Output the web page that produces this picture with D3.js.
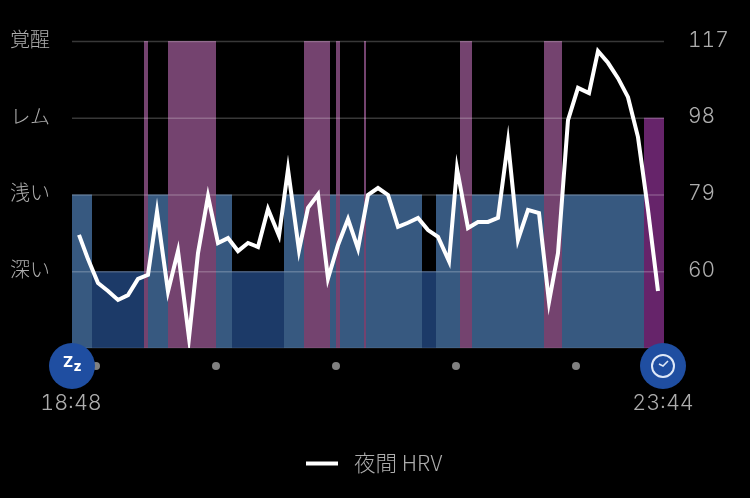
<!DOCTYPE html>
<html>
<head>
<meta charset="utf-8">
<script src="https://cdn.jsdelivr.net/npm/d3@7"></script>
<style>
  html, body { margin: 0; padding: 0; background: #000; }
  svg { display: block; will-change: transform; }
  text { font-family: Inter, "Noto Sans CJK JP", sans-serif; fill: #adadad; font-feature-settings: "tnum"; }
  .jp { font-family: "Noto Sans CJK JP", sans-serif; font-weight: 300; }
</style>
</head>
<body>
<div class="chart"></div>
<script>
// Sleep stage labels, bottom to top
var stageLabels = ["深い", "浅い", "レム", "覚醒"];

// Stage blocks: minutes after 18:48
var stageStart = [0, 10, 36, 38, 48, 72, 80, 106, 116, 129, 132, 134, 146, 147, 175, 182, 194, 200, 236, 245, 286];
var stageEnd = [10, 36, 38, 48, 72, 80, 106, 116, 129, 132, 134, 146, 147, 175, 182, 194, 200, 236, 245, 286, 296];
var stageLevel = ["浅い", "深い", "覚醒", "浅い", "覚醒", "浅い", "深い", "浅い", "覚醒", "浅い", "覚醒", "浅い", "覚醒", "浅い", "深い", "浅い", "覚醒", "浅い", "覚醒", "浅い", "レム"];

// Nightly HRV readings
var hrvMinutes = [3.5, 8, 13, 18, 23, 28, 33, 38, 42.5, 48, 53, 58.5, 63, 68, 73, 78, 83, 88, 93, 98, 103.5, 108, 113.5, 118, 123, 128, 133, 138, 143, 148, 153, 158, 163, 168, 173, 178, 183, 188.5, 192.5, 198, 203, 208, 213, 218, 223, 228, 233.5, 238.5, 243, 248, 253, 258.5, 263, 268, 273, 278, 283, 288, 293];
var hrvValues = [69, 63, 57.1, 55.1, 52.9, 54.1, 58.1, 59.1, 74.7, 55, 65, 43.5, 64.5, 78.6, 67, 68.2, 65, 67, 66, 75.4, 68.8, 85.2, 65.2, 75.7, 79, 58.2, 66.5, 72.9, 65.6, 78.9, 80.6, 78.9, 71, 72, 73.2, 70.2, 68.5, 62.5, 85.4, 70.7, 72.2, 72.2, 73.2, 92, 67.8, 75.2, 74.4, 52.4, 64.5, 97.4, 105.4, 104.1, 114.5, 111.6, 107.8, 103.1, 93.2, 75.2, 55.1];

var hrvTicks = [60, 79, 98, 117];
var dotMinutes = [12, 72, 132, 192, 252];
var timeLabels = ["18:48", "23:44"];
var legendLabel = "夜間 HRV";

var svgWidth = 750;
var svgHeight = 498;

var margin = { top: 41, right: 86, bottom: 150, left: 72 };
var width = svgWidth - margin.left - margin.right;
var height = svgHeight - margin.top - margin.bottom;

var colors = { "深い": "#1c3a68", "浅い": "#375980", "レム": "#66246a", "覚醒": "#74436f" };

var svg = d3.select(".chart")
  .append("svg")
  .attr("width", svgWidth)
  .attr("height", svgHeight);

var chartGroup = svg.append("g")
  .attr("transform", `translate(${margin.left}, ${margin.top})`);

// Scales
var xScale = d3.scaleLinear().domain([0, 296]).range([0, width]);
var yScale = d3.scaleLinear().domain([41, 117]).range([height, 0]);
var stageScale = d3.scalePoint().domain(["", ...stageLabels]).range([height, 0]);

// Stage bars
chartGroup.selectAll(".stage")
  .data(stageLevel)
  .enter()
  .append("rect")
  .attr("class", "stage")
  .attr("x", (d, i) => xScale(stageStart[i]))
  .attr("y", d => stageScale(d))
  .attr("width", (d, i) => xScale(stageEnd[i]) - xScale(stageStart[i]))
  .attr("height", d => height - stageScale(d))
  .attr("fill", d => colors[d]);

// Grid lines and left labels
var leftAxis = d3.axisLeft(stageScale)
  .tickValues(stageLabels)
  .tickSize(-width)
  .tickPadding(22);

var leftG = chartGroup.append("g").call(leftAxis);
leftG.select(".domain").remove();
leftG.selectAll("line").attr("stroke", "#fff").attr("stroke-opacity", 0.22).attr("stroke-width", 1.5);
leftG.selectAll("text")
  .attr("class", "jp")
  .attr("dy", "0.32em")
  .attr("y", -1)
  .style("font-size", "20px");

chartGroup.append("line")
  .attr("x1", 0).attr("x2", width)
  .attr("y1", height).attr("y2", height)
  .attr("stroke", "#fff").attr("stroke-opacity", 0.12);

// Right axis
var rightAxis = d3.axisRight(yScale)
  .tickValues(hrvTicks)
  .tickSize(0)
  .tickPadding(24);

var rightG = chartGroup.append("g")
  .attr("transform", `translate(${width}, 0)`)
  .call(rightAxis);
rightG.select(".domain").remove();
rightG.selectAll("text")
  .attr("y", -1.5)
  .style("font-size", "21px")
  .style("font-weight", 300);

// HRV line
svg.append("clipPath").attr("id", "plot")
  .append("rect").attr("x", 0).attr("y", 0).attr("width", width).attr("height", height);

var line = d3.line()
  .x((d, i) => xScale(hrvMinutes[i]))
  .y(d => yScale(d));

chartGroup.append("path")
  .datum(hrvValues)
  .attr("clip-path", "url(#plot)")
  .attr("d", line)
  .attr("fill", "none")
  .attr("stroke", "#fff")
  .attr("stroke-width", 4)
  .attr("stroke-linejoin", "miter")
  .attr("stroke-miterlimit", 30);

// Hour dots
chartGroup.selectAll(".hour")
  .data(dotMinutes)
  .enter()
  .append("circle")
  .attr("class", "hour")
  .attr("cx", d => xScale(d))
  .attr("cy", height + 18)
  .attr("r", 4)
  .attr("fill", "#808080");

// Start icon
var startIcon = chartGroup.append("g")
  .attr("transform", `translate(${xScale(0)}, ${height + 18})`);
startIcon.append("circle").attr("r", 23).attr("fill", "#1f4ea1");
startIcon.append("text")
  .attr("text-anchor", "middle")
  .attr("x", -4).attr("y", 1)
  .style("fill", "#fff").style("font-size", "15px").style("font-weight", 800)
  .text("Z");
startIcon.append("text")
  .attr("text-anchor", "middle")
  .attr("x", 5.5).attr("y", 5)
  .style("fill", "#fff").style("font-size", "14px").style("font-weight", 800)
  .text("z");

// End icon
var endIcon = chartGroup.append("g")
  .attr("transform", `translate(${xScale(296) - 1}, ${height + 18})`);
endIcon.append("circle").attr("r", 23).attr("fill", "#1f4ea1");
endIcon.append("circle").attr("r", 11).attr("fill", "none").attr("stroke", "#dfe8f7").attr("stroke-width", 2);
endIcon.append("path").attr("d", "M-4,-2L0,0L5,-5").attr("fill", "none").attr("stroke", "#dfe8f7").attr("stroke-width", 1.6);

// Time labels
chartGroup.selectAll(".time")
  .data(timeLabels)
  .enter()
  .append("text")
  .attr("class", "time")
  .attr("x", (d, i) => xScale(i * 296) - 1)
  .attr("y", height + 62)
  .attr("text-anchor", "middle")
  .style("font-size", "21.5px")
  .style("font-weight", 300)
  .text(d => d);

// Legend
svg.append("line")
  .attr("x1", 306).attr("x2", 338)
  .attr("y1", 463.5).attr("y2", 463.5)
  .attr("stroke", "#fff").attr("stroke-width", 4);
svg.append("text")
  .attr("class", "jp")
  .attr("x", 354).attr("y", 471)
  .style("font-size", "21.5px")
  .text(legendLabel);
</script>
</body>
</html>
